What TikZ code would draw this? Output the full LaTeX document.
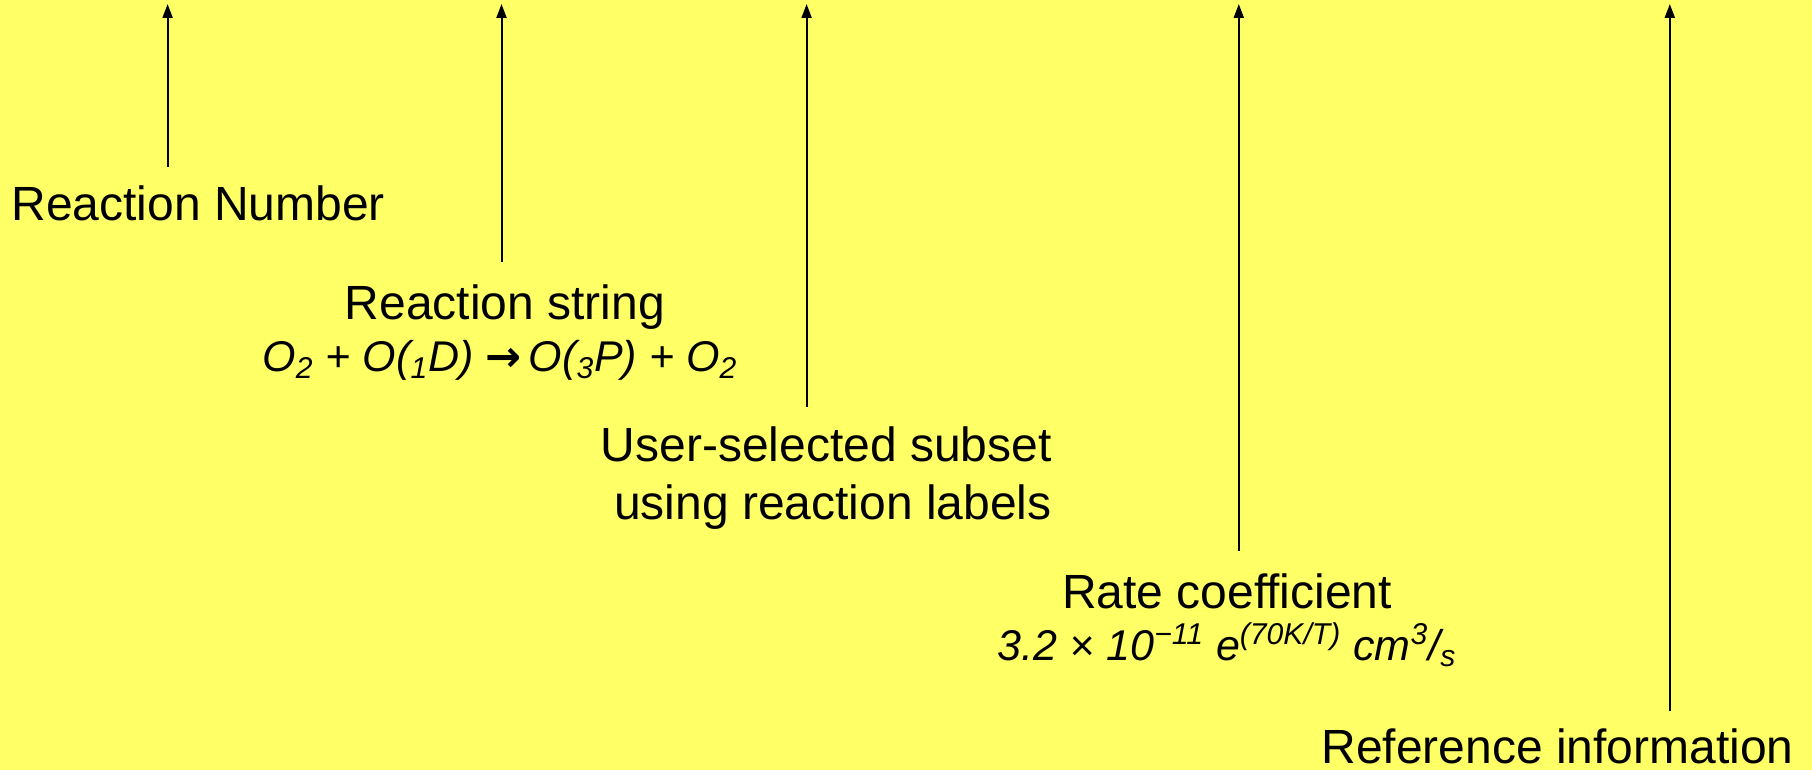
\documentclass[tikz,border=0pt]{standalone}
\usepackage{fontspec}
\setmainfont{Liberation Sans}
\newfontfamily\arrowfont{DejaVu Sans}
\usetikzlibrary{arrows.meta}
\definecolor{bgyellow}{RGB}{255,255,102}
\begin{document}
\begin{tikzpicture}[x=0.5pt,y=-0.5pt,
  lbl/.style={inner sep=0pt, font=\fontsize{24}{28.5}\selectfont, text=black},
  fml/.style={inner sep=0pt, font=\fontsize{21.5}{25}\selectfont\itshape, text=black},
  ptr/.style={line width=1pt, -{Triangle[length=7pt,width=5pt]}}]
\fill[bgyellow] (0,0) rectangle (1812,770);
\useasboundingbox (0,0) rectangle (1812,770);
% labels
\node[lbl, anchor=base west] (rn) at (11,221) {Reaction Number};
\node[lbl, anchor=base] (rs) at (505,320) {Reaction string};
\node[fml, anchor=base] (rsf) at (500,372) {O\textsubscript{2} + O(\textsubscript{1}D) {\arrowfont\bfseries\upshape →}\,O(\textsubscript{3}P) + O\textsubscript{2}};
\node[lbl, align=right, anchor=base east] (us) at (1052,519) {User-selected subset\\using reaction labels};
\node[lbl, anchor=base] (rc) at (1227,608) {Rate coefficient};
\node[fml, anchor=base] (rcf) at (1227,660) {3.2 × 10\textsuperscript{−11} e\textsuperscript{(70K/T)} cm\textsuperscript{3}/\textsubscript{s}};
\node[lbl, anchor=base west] (ri) at (1321,763) {Reference information};
% arrow ends
\coordinate (rnb) at (167.6,167);
\coordinate (rnt) at (167.6,4);
\coordinate (rsb) at (501.5,262);
\coordinate (rst) at (501.5,4);
\coordinate (usb) at (806.6,407);
\coordinate (ust) at (806.6,4);
\coordinate (rcb) at (1238.8,551);
\coordinate (rct) at (1238.8,4);
\coordinate (rib) at (1669.8,711);
\coordinate (rit) at (1669.8,4);
\draw[ptr] (rnb) -- (rnt);
\draw[ptr] (rsb) -- (rst);
\draw[ptr] (usb) -- (ust);
\draw[ptr] (rcb) -- (rct);
\draw[ptr] (rib) -- (rit);
\end{tikzpicture}
\end{document}
